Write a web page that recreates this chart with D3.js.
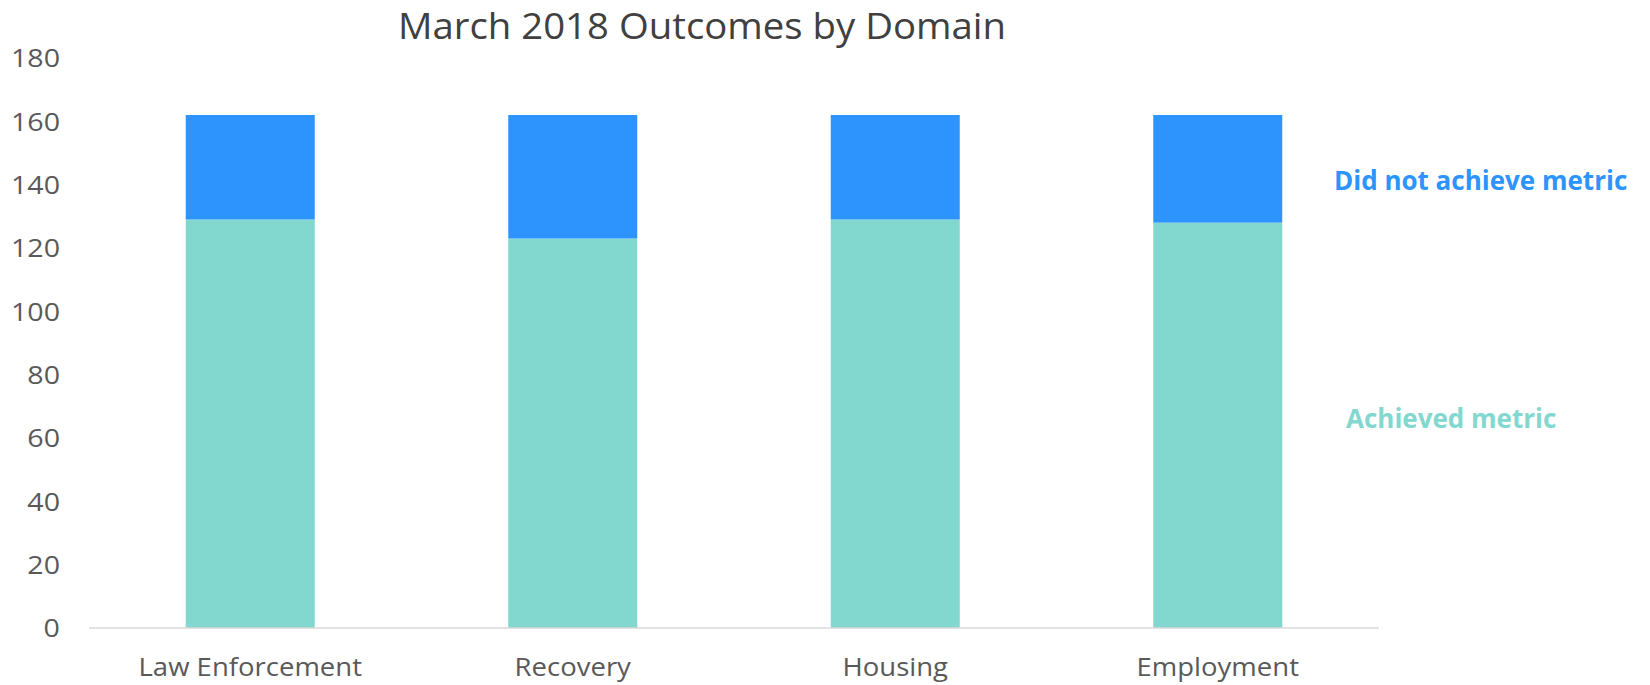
<!DOCTYPE html>
<html>
<head>
<meta charset="utf-8">
<script src="https://cdn.jsdelivr.net/npm/d3@7"></script>
<style>
  body { margin: 0; background: #fff; }
  text { font-family: "Open Sans", sans-serif; }
</style>
</head>
<body>
<div id="chart"></div>
<script>
const domains = ["Law Enforcement", "Recovery", "Housing", "Employment"];
const achieved = [129, 123, 129, 128];
const notAchieved = [33, 39, 33, 34];
const yTicks = [0, 20, 40, 60, 80, 100, 120, 140, 160, 180];
const seriesNames = ["Achieved metric", "Did not achieve metric"];

const width = 1650, height = 685;
const colors = {achieved: "#82d8cf", notAchieved: "#2d94fe"};

const svg = d3.select("#chart")
  .append("svg")
  .attr("width", width)
  .attr("height", height);

const x = d3.scaleBand()
  .domain(domains)
  .range([89, 1379])
  .paddingInner(0.6)
  .paddingOuter(0.3);

const y = d3.scaleLinear()
  .domain([0, 180])
  .range([628, 58]);

// stack the two series
const rows = domains.map((d, i) => ({domain: d, achieved: achieved[i], notAchieved: notAchieved[i]}));
const stack = d3.stack().keys(["achieved", "notAchieved"])(rows);

svg.append("g")
  .selectAll("g")
  .data(stack)
  .enter().append("g")
  .attr("fill", s => colors[s.key])
  .selectAll("rect")
  .data(s => s)
  .enter().append("rect")
  .attr("x", d => x(d.data.domain))
  .attr("y", d => y(d[1]))
  .attr("width", x.bandwidth())
  .attr("height", d => y(d[0]) - y(d[1]));

// y tick labels (no axis line)
svg.append("g")
  .selectAll("text")
  .data(yTicks)
  .enter().append("text")
  .attr("x", 60)
  .attr("y", d => y(d))
  .attr("dy", "0.36em")
  .attr("text-anchor", "end")
  .attr("font-size", "26px")
  .attr("fill", "#595959")
  .text(d => d)
  .each(function() {
    // calibri-ish digits are a touch wider
    const w = this.getComputedTextLength();
    d3.select(this).attr("textLength", w * 1.1).attr("lengthAdjust", "spacingAndGlyphs");
  });

// baseline
svg.append("line")
  .attr("x1", x.range()[0])
  .attr("x2", x.range()[1])
  .attr("y1", y(0))
  .attr("y2", y(0))
  .attr("stroke", "#d9d9d9")
  .attr("stroke-width", 1.5);

// category labels
svg.append("g")
  .selectAll("text")
  .data(domains)
  .enter().append("text")
  .attr("x", d => x(d) + x.bandwidth() / 2)
  .attr("y", 676)
  .attr("text-anchor", "middle")
  .attr("font-size", "25px")
  .attr("fill", "#595959")
  .text(d => d)
  .each(function() {
    const w = this.getComputedTextLength();
    d3.select(this).attr("textLength", w * 1.1).attr("lengthAdjust", "spacingAndGlyphs");
  });

// title
svg.append("text")
  .attr("x", 702)
  .attr("y", 39)
  .attr("text-anchor", "middle")
  .attr("font-size", "37px")
  .attr("fill", "#404040")
  .attr("textLength", 608)
  .attr("lengthAdjust", "spacingAndGlyphs")
  .text("March 2018 Outcomes by Domain");

// series labels on the right
svg.append("text")
  .attr("x", 1334)
  .attr("y", 190)
  .attr("font-family", "Noto Sans")
  .attr("font-weight", "bold")
  .attr("font-size", "26px")
  .attr("fill", colors.notAchieved)
  .text(seriesNames[1]);

svg.append("text")
  .attr("x", 1346)
  .attr("y", 428)
  .attr("font-family", "Noto Sans")
  .attr("font-weight", "bold")
  .attr("font-size", "26px")
  .attr("fill", colors.achieved)
  .text(seriesNames[0]);
</script>
</body>
</html>
